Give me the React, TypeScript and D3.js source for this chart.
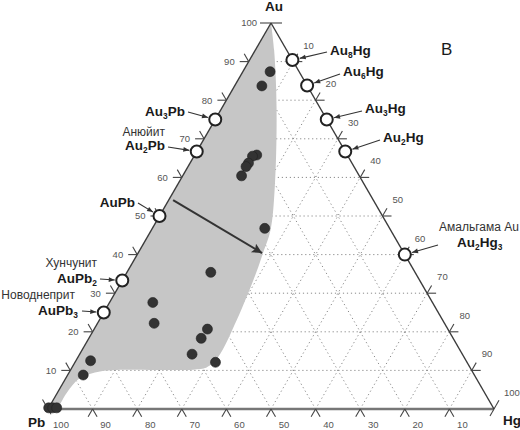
import React from 'react';
import * as d3 from 'd3';

// ---------- data ----------
const TICK_VALUES = [10, 20, 30, 40, 50, 60, 70, 80, 90, 100];
const GRID_VALUES = [10, 20, 30, 40, 50, 60, 70, 80, 90];

// sample compositions (at.% Au, at.% Hg; Pb = rest)
const sampleAu = [87.4, 83.7, 65.8, 65.5, 63.7, 62.8, 60.4, 46.8, 35.4, 20.7, 18.3, 14.2, 12.1, 27.6, 22.2, 12.5, 8.8, 0.3, 0.3, 0.3];
const sampleHg = [6.1, 6.1, 13.9, 13.1, 13.1, 13.0, 13.2, 25.2, 18.8, 25.4, 25.2, 25.2, 31.5, 9.7, 12.7, 3.3, 3.5, 0.0, 0.9, 1.8];

// Au–Pb compounds on the Pb–Au side (at.% Au)
const pbCompounds = ['Au3Pb', 'Au2Pb', 'AuPb', 'AuPb2', 'AuPb3'];
const pbCompoundAu = [75, 66.7, 50, 33.3, 25];
const pbMinerals = ['', 'Анюйит', '', 'Хунчунит', 'Новоднеприт'];

// Au–Hg compounds on the Au–Hg side (at.% Hg)
const hgCompounds = ['Au8Hg', 'Au6Hg', 'Au3Hg', 'Au2Hg', 'Au2Hg3'];
const hgCompoundHg = [9.6, 16.2, 25, 33.3, 60];
const hgMinerals = ['', '', '', '', 'Амальгама Au'];

// field of compositions (boundary, at.% Au / Hg)
const fieldAu = [100, 93, 77.5, 57.5, 46.4, 40.4, 36, 23.1, 13.5, 10.8, 10.2, 10.1, 10.1, 9.7, 8.0, 4.1, 0];
const fieldHg = [0, 4.2, 12.5, 22.1, 26.7, 28, 28.9, 30.8, 31.4, 30.2, 27.5, 20.1, 10.4, 6.8, 3.2, 2.1, 2.2];

// trend arrow (from, to)
const trendAu = [54.1, 40.4];
const trendHg = [1.0, 27.8];

// ---------- layout ----------
const FONT = '"Liberation Sans", Arial, Helvetica, sans-serif';
const pbLabelPos = [
  { x: 185, y: 111, ax: 188, ay: 112 },
  { x: 165, y: 145, ax: 168, ay: 147, my: 131.5 },
  { x: 135, y: 201.5, ax: 138, ay: 203 },
  { x: 97, y: 277.5, ax: 100, ay: 279, my: 263 },
  { x: 78, y: 310, ax: 82, ay: 311, my: 295, mx: 75 },
];
const hgLabelPos = [
  { x: 330, y: 50, ax: 327, ay: 52 },
  { x: 343, y: 71, ax: 340, ay: 74 },
  { x: 365, y: 108, ax: 362, ay: 111 },
  { x: 383, y: 137, ax: 380, ay: 140 },
  { x: 457, y: 242, ax: 438, ay: 245, my: 227, mx: 439 },
];

const xs = d3.scaleLinear().domain([0, 100]).range([48, 494]);
const ys = d3.scaleLinear().domain([0, 100]).range([409, 23]);
const proj = (au: number, hg: number): [number, number] => [xs(hg + au / 2), ys(au)];

const S = Math.sin(Math.PI / 3);
const C = 0.5;

function Formula({ f, x, y, anchor, size }: { f: string; x: number; y: number; anchor: string; size: number }) {
  const parts = f.match(/[A-Z][a-z]?\d*/g) || [];
  const spans: any[] = [];
  let shifted = false;
  parts.forEach((p, i) => {
    const m = p.match(/([A-Z][a-z]?)(\d*)/)!;
    spans.push(
      <tspan key={i + 'e'} dy={shifted ? -3 : 0}>{m[1]}</tspan>
    );
    shifted = false;
    if (m[2]) {
      spans.push(
        <tspan key={i + 's'} fontSize={size * 0.62} dy={3}>{m[2]}</tspan>
      );
      shifted = true;
    }
  });
  return (
    <text x={x} y={y} textAnchor={anchor as any} fontFamily={FONT} fontWeight="bold" fontSize={size} fill="#1a1a1a">
      {spans}
    </text>
  );
}

export default function App() {
  const A = proj(100, 0);
  const P = proj(0, 0);
  const Hg = proj(0, 100);

  // grid lines
  const grid: [number, number][][] = [];
  GRID_VALUES.forEach((v) => {
    grid.push([proj(v, 0), proj(v, 100 - v)]);
    grid.push([proj(0, v), proj(100 - v, v)]);
    grid.push([proj(0, 100 - v), proj(100 - v, 0)]);
  });

  // field shape
  const fieldPts = fieldAu.map((a, i) => proj(a, fieldHg[i]));
  const curve = d3.line().curve(d3.curveCatmullRom.alpha(0.5))(fieldPts as any) || '';
  const fieldPath = `${curve}L${P[0]},${P[1]}L${A[0]},${A[1]}Z`;

  const L = 9;
  const ticks: [number, number, number, number][] = [];
  // left axis (Au)
  TICK_VALUES.forEach((v) => {
    const [x, y] = proj(v, 0);
    if (v < 100) {
      ticks.push([x, y, x - L, y]);
      ticks.push([x, y, x - L * C, y - L * S]);
    } else {
      ticks.push([x, y, x - 11, y]);
      ticks.push([x, y, x + 11, y]);
    }
  });
  // right axis (Hg)
  TICK_VALUES.forEach((v) => {
    const [x, y] = proj(100 - v, v);
    if (v < 100) {
      ticks.push([x, y, x + L, y]);
      ticks.push([x, y, x + L * C, y - L * S]);
    } else {
      ticks.push([x - 8 * C, y + 8 * S, x + 10 * C, y - 10 * S]);
    }
  });
  // bottom axis (Pb)
  TICK_VALUES.forEach((v) => {
    const [x, y] = proj(0, 100 - v);
    if (v < 100) {
      ticks.push([x, y, x - L * C, y + L * S]);
      ticks.push([x, y, x + L * C, y + L * S]);
    } else {
      ticks.push([x - 11 * C, y - 11 * S, x + 6 * C, y + 6 * S]);
    }
  });

  const arrowEnd = (sx: number, sy: number, tx: number, ty: number, gap: number) => {
    const dx = tx - sx, dy = ty - sy;
    const d = Math.hypot(dx, dy);
    return [tx - (dx / d) * gap, ty - (dy / d) * gap];
  };

  const t0 = proj(trendAu[0], trendHg[0]);
  const t1 = proj(trendAu[1], trendHg[1]);

  return (
    <svg width={520} height={430} style={{ position: 'absolute', left: 0, top: 0, background: '#fff' }}>
      <defs>
        <marker id="ah" viewBox="0 0 10 10" refX="10" refY="5" markerWidth="7" markerHeight="6" markerUnits="userSpaceOnUse" orient="auto">
          <path d="M0,1L10,5L0,9Z" fill="#333" />
        </marker>
        <marker id="bah" viewBox="0 0 10 10" refX="10" refY="5" markerWidth="14" markerHeight="10" markerUnits="userSpaceOnUse" orient="auto">
          <path d="M0,0L10,5L0,10L2,5Z" fill="#333" />
        </marker>
      </defs>
      <rect width={520} height={430} fill="#fff" />

      {/* grid */}
      {grid.map((g, i) => (
        <line key={'g' + i} x1={g[0][0]} y1={g[0][1]} x2={g[1][0]} y2={g[1][1]} stroke="#8a8a8a" strokeWidth={1} strokeDasharray="1.2 2.8" />
      ))}

      {/* field */}
      <path d={fieldPath} fill="#c6c6c6" stroke="none" />

      {/* edges */}
      <line x1={P[0]} y1={P[1]} x2={Hg[0]} y2={Hg[1]} stroke="#777" strokeWidth={2.6} />
      <line x1={P[0]} y1={P[1]} x2={A[0]} y2={A[1]} stroke="#3a3a3a" strokeWidth={1.4} />
      <line x1={A[0]} y1={A[1]} x2={Hg[0]} y2={Hg[1]} stroke="#3a3a3a" strokeWidth={1.4} />

      {/* ticks */}
      {ticks.map((t, i) => (
        <line key={'t' + i} x1={t[0]} y1={t[1]} x2={t[2]} y2={t[3]} stroke="#444" strokeWidth={1.1} />
      ))}

      {/* tick labels */}
      {TICK_VALUES.map((v) => {
        const [x, y] = proj(v, 0);
        return <text key={'la' + v} x={x - 14} y={y + 3.4} textAnchor="end" fontFamily={FONT} fontSize={9.5} fill="#555">{v}</text>;
      })}
      {TICK_VALUES.map((v) => {
        const [x, y] = proj(100 - v, v);
        return <text key={'lh' + v} x={x + 10} y={y - 16.5 + 3.4} textAnchor="start" fontFamily={FONT} fontSize={9.5} fill="#555">{v}</text>;
      })}
      {TICK_VALUES.map((v) => {
        const [x, y] = proj(0, 100 - v);
        return <text key={'lp' + v} x={x + 13} y={y + 18.5} textAnchor="middle" fontFamily={FONT} fontSize={9.5} fill="#555">{v}</text>;
      })}

      {/* trend arrow */}
      <line x1={t0[0]} y1={t0[1]} x2={t1[0]} y2={t1[1]} stroke="#333" strokeWidth={2} markerEnd="url(#bah)" />

      {/* samples */}
      {sampleAu.map((a, i) => {
        const [x, y] = proj(a, sampleHg[i]);
        return <circle key={'s' + i} cx={x} cy={y} r={5} fill="#333" stroke="#222" strokeWidth={0.6} />;
      })}

      {/* compounds Au-Pb */}
      {pbCompounds.map((f, i) => {
        const [cx, cy] = proj(pbCompoundAu[i], 0);
        const lp = pbLabelPos[i];
        const [ex, ey] = arrowEnd(lp.ax, lp.ay, cx, cy, 7.5);
        return (
          <g key={'pc' + i}>
            <line x1={lp.ax} y1={lp.ay} x2={ex} y2={ey} stroke="#333" strokeWidth={1.1} markerEnd="url(#ah)" />
            <circle cx={cx} cy={cy} r={6} fill="#fff" stroke="#222" strokeWidth={2} />
            <Formula f={f} x={lp.x} y={lp.y + 5} anchor="end" size={13.5} />
            {pbMinerals[i] && (
              <text x={lp.mx ?? lp.x} y={(lp.my ?? 0) + 4.2} textAnchor="end" fontFamily={FONT} fontSize={12} fill="#333">{pbMinerals[i]}</text>
            )}
          </g>
        );
      })}

      {/* compounds Au-Hg */}
      {hgCompounds.map((f, i) => {
        const [cx, cy] = proj(100 - hgCompoundHg[i], hgCompoundHg[i]);
        const lp = hgLabelPos[i];
        const [ex, ey] = arrowEnd(lp.ax, lp.ay, cx, cy, 7.5);
        return (
          <g key={'hc' + i}>
            <line x1={lp.ax} y1={lp.ay} x2={ex} y2={ey} stroke="#333" strokeWidth={1.1} markerEnd="url(#ah)" />
            <circle cx={cx} cy={cy} r={6} fill="#fff" stroke="#222" strokeWidth={2} />
            <Formula f={f} x={lp.x} y={lp.y + 5} anchor="start" size={13.5} />
            {hgMinerals[i] && (
              <text x={lp.mx ?? lp.x} y={(lp.my ?? 0) + 4.2} textAnchor="start" fontFamily={FONT} fontSize={12} fill="#333">{hgMinerals[i]}</text>
            )}
          </g>
        );
      })}

      {/* vertex labels */}
      <text x={274} y={11} textAnchor="middle" fontFamily={FONT} fontWeight="bold" fontSize={13.5} fill="#1a1a1a">Au</text>
      <text x={28} y={427} textAnchor="start" fontFamily={FONT} fontWeight="bold" fontSize={13.5} fill="#1a1a1a">Pb</text>
      <text x={503} y={425} textAnchor="start" fontFamily={FONT} fontWeight="bold" fontSize={13.5} fill="#1a1a1a">Hg</text>
      <text x={441} y={55} textAnchor="start" fontFamily={FONT} fontSize={17} fill="#1a1a1a">В</text>
    </svg>
  );
}
